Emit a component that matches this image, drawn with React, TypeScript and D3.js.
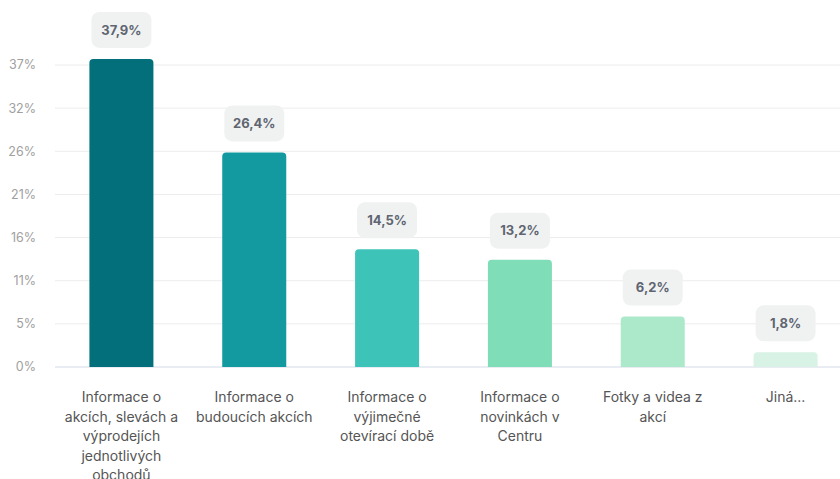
import React from "react";
import * as d3 from "d3";

const categories: string[] = [
  "Informace o akcích, slevách a výprodejích jednotlivých obchodů",
  "Informace o budoucích akcích",
  "Informace o výjimečné otevírací době",
  "Informace o novinkách v Centru",
  "Fotky a videa z akcí",
  "Jiná...",
];
const values: number[] = [37.9, 26.4, 14.5, 13.2, 6.2, 1.8];
const valueLabels: string[] = ["37,9%", "26,4%", "14,5%", "13,2%", "6,2%", "1,8%"];
const barColors: string[] = ["#026f7b", "#139aa0", "#3ec3b8", "#7fddb8", "#ace9cb", "#d9f2e6"];
const tickValues: number[] = [0, 5.307, 10.614, 15.921, 21.229, 26.536, 31.843, 37.15];
const tickLabels: string[] = ["0%", "5%", "11%", "16%", "21%", "26%", "32%", "37%"];

const W = 840;
const H = 479;
const FONT = "Inter, 'Noto Sans', sans-serif";
const LABEL_FONT_SIZE = 14;

function wrap(text: string, maxW: number, font: string): string[] {
  const canvas = document.createElement("canvas");
  const ctx = canvas.getContext("2d")!;
  ctx.font = font;
  const words = text.split(" ");
  const lines: string[] = [];
  let cur = "";
  for (const w of words) {
    const t = cur ? cur + " " + w : w;
    if (ctx.measureText(t).width > maxW && cur) {
      lines.push(cur);
      cur = w;
    } else cur = t;
  }
  if (cur) lines.push(cur);
  return lines;
}

function roundedTopRect(x: number, y: number, w: number, h: number, r: number) {
  const rr = Math.min(r, h, w / 2);
  return `M${x},${y + h}V${y + rr}Q${x},${y} ${x + rr},${y}H${x + w - rr}Q${x + w},${y} ${x + w},${y + rr}V${y + h}Z`;
}

export default function App() {
  const y = d3.scaleLinear().domain([0, 37.15]).range([367, 65]);
  const x = d3.scaleBand<string>().domain(categories).range([55, 852]).paddingInner(0.518).paddingOuter(0.259);
  const bw = x.bandwidth();

  return (
    <svg width={W} height={H} style={{ position: "absolute", left: 0, top: 0, background: "#fff" }} fontFamily={FONT}>
      {tickValues.map((t, i) => (
        <g key={i}>
          <line x1={55} x2={W} y1={y(t)} y2={y(t)} stroke={i === 0 ? "#d3dae8" : "#ececec"} strokeWidth={1} />
          <text x={36} y={y(t)} dy="0.35em" textAnchor="end" fontSize={12.5} fill="#a0a0a0">
            {tickLabels[i]}
          </text>
        </g>
      ))}
      {categories.map((c, i) => {
        const bx = x(c)!;
        const top = y(values[i]);
        const cx = bx + bw / 2;
        const boxW = 60;
        const boxH = 36;
        const boxBottom = top - 11;
        const lines = wrap(c, 120, `${LABEL_FONT_SIZE}px ${FONT}`);
        return (
          <g key={c}>
            <path d={roundedTopRect(bx, top, bw, y(0) - top, 4)} fill={barColors[i]} />
            <rect x={cx - boxW / 2} y={boxBottom - boxH} width={boxW} height={boxH} rx={8} fill="#f0f2f2" />
            <text x={cx} y={boxBottom - boxH / 2} dy="0.36em" textAnchor="middle" fontSize={13} fontWeight={700} fill="#5f6571">
              {valueLabels[i]}
            </text>
            <text textAnchor="middle" fontSize={LABEL_FONT_SIZE} fill="#555">
              {lines.map((l, j) => (
                <tspan key={j} x={cx} y={402 + j * 19.5}>
                  {l}
                </tspan>
              ))}
            </text>
          </g>
        );
      })}
    </svg>
  );
}
